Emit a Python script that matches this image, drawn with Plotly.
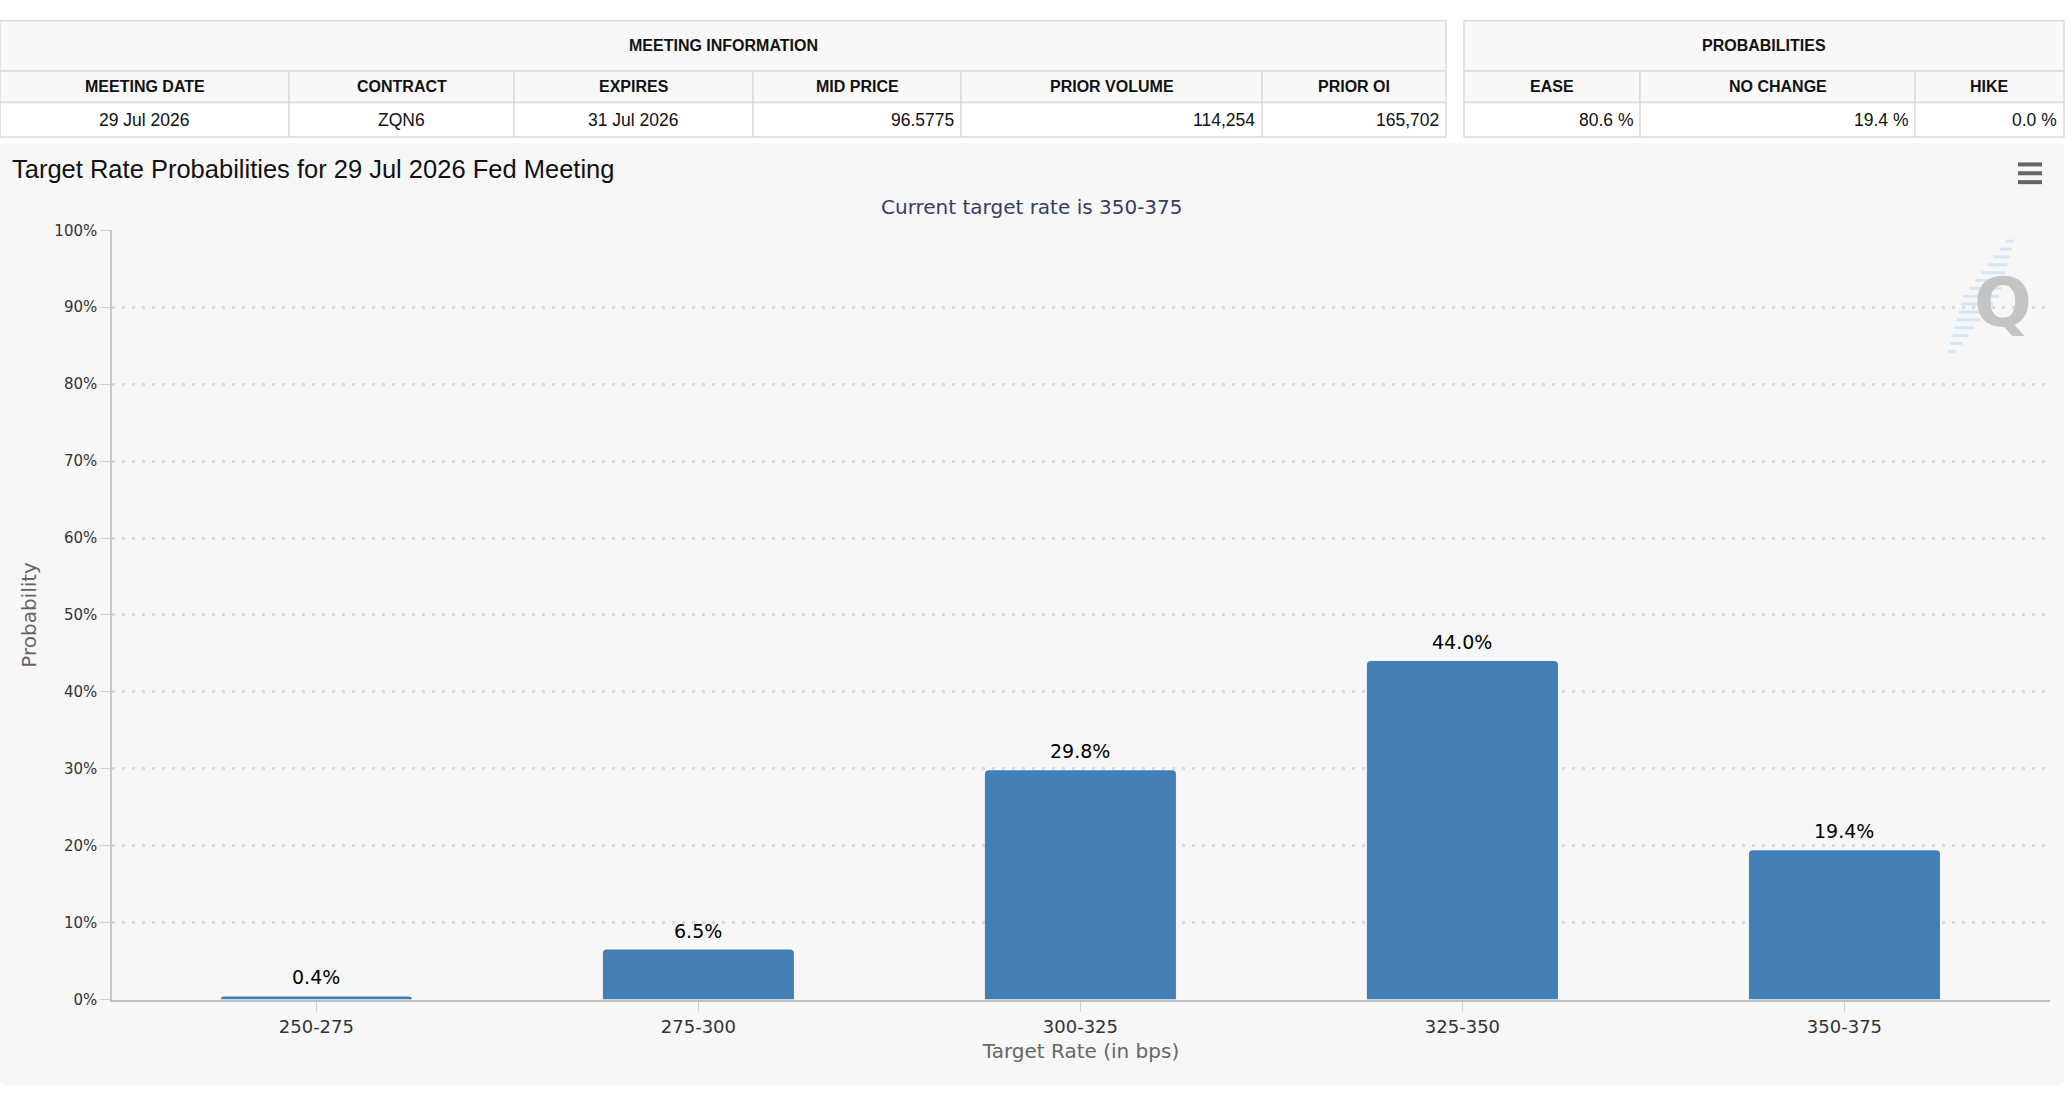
import plotly.graph_objects as go

# ---------------- data ----------------
rate_bins = ["250-275", "275-300", "300-325", "325-350", "350-375"]
probabilities = [0.4, 6.5, 29.8, 44.0, 19.4]
y_tick_values = [0, 10, 20, 30, 40, 50, 60, 70, 80, 90, 100]
y_tick_labels = ["0%", "10%", "20%", "30%", "40%", "50%", "60%", "70%", "80%", "90%", "100%"]

chart_title = "Target Rate Probabilities for 29 Jul 2026 Fed Meeting"
chart_subtitle = "Current target rate is 350-375"
x_title = "Target Rate (in bps)"
y_title = "Probability"

meeting_header = "MEETING INFORMATION"
meeting_cols = ["MEETING DATE", "CONTRACT", "EXPIRES", "MID PRICE", "PRIOR VOLUME", "PRIOR OI"]
meeting_vals = ["29 Jul 2026", "ZQN6", "31 Jul 2026", "96.5775", "114,254", "165,702"]

prob_header = "PROBABILITIES"
prob_cols = ["EASE", "NO CHANGE", "HIKE"]
prob_vals = ["80.6 %", "19.4 %", "0.0 %"]

# ---------------- layout helpers ----------------
W, H = 2072, 1102


def px(x):
    return x / W


def py(y):
    return 1 - y / H


shapes = []
annotations = []

# chart panel background (rounded rectangle)
x0, x1, yt, yb, r = 0, 2064, 136, 1094, 6
panel_path = (
    f"M {px(x0 + r)},{py(yt)} L {px(x1 - r)},{py(yt)} Q {px(x1)},{py(yt)} {px(x1)},{py(yt + r)} "
    f"L {px(x1)},{py(yb - r)} Q {px(x1)},{py(yb)} {px(x1 - r)},{py(yb)} "
    f"L {px(x0 + r)},{py(yb)} Q {px(x0)},{py(yb)} {px(x0)},{py(yb - r)} "
    f"L {px(x0)},{py(yt + r)} Q {px(x0)},{py(yt)} {px(x0 + r)},{py(yt)} Z"
)
shapes.append(dict(type="path", xref="paper", yref="paper", layer="below", path=panel_path,
                   fillcolor="#f7f7f7", line=dict(width=0)))

# tables
row_edges = [12, 63, 95, 130]
border = dict(color="#dcdcdc", width=1.5)
tfont = "Liberation Sans, Arial, sans-serif"


def draw_table(edges, header, cols, vals, aligns):
    shapes.append(dict(type="rect", xref="paper", yref="paper", layer="below",
                       x0=px(edges[0]), x1=px(edges[-1]), y0=py(row_edges[1]), y1=py(row_edges[0]),
                       fillcolor="#f8f8f8", line=border))
    annotations.append(dict(xref="paper", yref="paper", x=px((edges[0] + edges[-1]) / 2),
                            y=py((row_edges[0] + row_edges[1]) / 2), text="<b>%s</b>" % header,
                            showarrow=False, xanchor="center", yanchor="middle",
                            font=dict(family=tfont, size=16, color="#111111")))
    for i in range(len(cols)):
        c0, c1 = edges[i], edges[i + 1]
        shapes.append(dict(type="rect", xref="paper", yref="paper", layer="below",
                           x0=px(c0), x1=px(c1), y0=py(row_edges[2]), y1=py(row_edges[1]),
                           fillcolor="#f8f8f8", line=border))
        shapes.append(dict(type="rect", xref="paper", yref="paper", layer="below",
                           x0=px(c0), x1=px(c1), y0=py(row_edges[3]), y1=py(row_edges[2]),
                           fillcolor="#ffffff", line=border))
        annotations.append(dict(xref="paper", yref="paper", x=px((c0 + c1) / 2),
                                y=py((row_edges[1] + row_edges[2]) / 2), text="<b>%s</b>" % cols[i],
                                showarrow=False, xanchor="center", yanchor="middle",
                                font=dict(family=tfont, size=16, color="#111111")))
        if aligns[i] == "center":
            ax, anc = (c0 + c1) / 2, "center"
        else:
            ax, anc = c1 - 5, "right"
        annotations.append(dict(xref="paper", yref="paper", x=px(ax),
                                y=py((row_edges[2] + row_edges[3]) / 2), text=vals[i],
                                showarrow=False, xanchor=anc, yanchor="middle",
                                font=dict(family=tfont, size=17.5, color="#111111")))


draw_table([0, 289, 514, 753, 961, 1262, 1446], meeting_header, meeting_cols, meeting_vals,
           ["center", "center", "center", "right", "right", "right"])
draw_table([1464, 1640, 1915, 2064], prob_header, prob_cols, prob_vals,
           ["right", "right", "right"])

cfont = "DejaVu Sans, Verdana, sans-serif"

# title & subtitle
annotations.append(dict(xref="paper", yref="paper", x=px(10), y=py(163), text=chart_title,
                        showarrow=False, xanchor="left", yanchor="middle",
                        font=dict(family=tfont, size=25.5, color="#111111")))
annotations.append(dict(xref="paper", yref="paper", x=px(1032), y=py(201), text=chart_subtitle,
                        showarrow=False, xanchor="center", yanchor="middle",
                        font=dict(family=cfont, size=20, color="#333d66")))

# hamburger menu icon
for yy in [158, 167, 176]:
    shapes.append(dict(type="line", xref="paper", yref="paper", x0=px(2018), x1=px(2042),
                       y0=py(yy), y1=py(yy), line=dict(color="#666666", width=4)))

# watermark hatch + Q
for k in range(15):
    yy = 236 + k * 8
    t = k / 14.0
    xc = 2010 - 58 * t
    half = 4 + 14 * (1 - abs(2 * t - 1))
    shapes.append(dict(type="line", xref="paper", yref="paper", layer="below",
                       x0=px(xc - half), x1=px(xc + half), y0=py(yy), y1=py(yy),
                       line=dict(color="#d3e6f6", width=3)))
annotations.append(dict(xref="paper", yref="paper", x=px(2003), y=py(298), text="<b>Q</b>",
                        showarrow=False, xanchor="center", yanchor="middle",
                        font=dict(family="DejaVu Sans, sans-serif", size=68, color="#c4c4c4")))

# data labels above bars (placed through the data axes)
for cat, val in zip(rate_bins, probabilities):
    annotations.append(dict(xref="x", yref="y", x=cat, y=val, text="%.1f%%" % val,
                            showarrow=False, xanchor="center", yanchor="middle", yshift=19,
                            font=dict(family=cfont, size=19, color="#000000")))

fig = go.Figure()
fig.add_trace(go.Bar(
    x=rate_bins, y=probabilities, width=0.5,
    marker=dict(color="#427fb5", line=dict(width=0)),
    hoverinfo="skip",
))

fig.update_layout(
    width=W, height=H, autosize=False,
    margin=dict(l=0, r=0, t=0, b=0),
    paper_bgcolor="#ffffff", plot_bgcolor="rgba(0,0,0,0)",
    showlegend=False, barcornerradius=4,
    shapes=shapes, annotations=annotations,
    font=dict(family=cfont, color="#333333"),
    xaxis=dict(domain=[px(112), px(2050)], type="category", range=[-0.535, 4.538],
               showline=True, linecolor="#c0c0c0", linewidth=2, showgrid=False, zeroline=False,
               ticks="outside", ticklen=10, tickcolor="#d0d0d0", tickwidth=1,
               tickfont=dict(family=cfont, size=18, color="#333333"),
               title=dict(text=x_title, standoff=8, font=dict(family=cfont, size=20, color="#666666"))),
    yaxis=dict(domain=[py(1007), py(225)], range=[0, 100],
               tickmode="array", tickvals=y_tick_values, ticktext=y_tick_labels,
               showline=True, linecolor="#c8c8c8", linewidth=1.5, zeroline=False,
               showgrid=True, gridcolor="#dadada", gridwidth=3, griddash="3px,7px",
               ticks="outside", ticklen=10, tickcolor="#d0d0d0", tickwidth=1,
               tickfont=dict(family=cfont, size=15, color="#333333"),
               title=dict(text=y_title, standoff=12, font=dict(family=cfont, size=20, color="#666666"))),
)

fig.write_html("out.html", config={"displayModeBar": False},
               post_script="document.documentElement.style.margin='0';document.body.style.margin='0';document.body.style.padding='0';document.body.style.overflow='hidden';")
